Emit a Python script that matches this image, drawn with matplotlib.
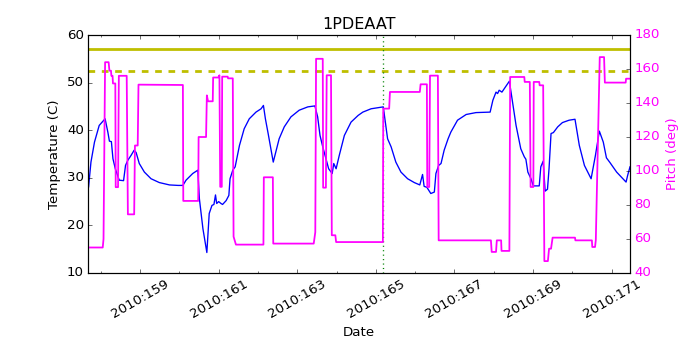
import numpy as np
import matplotlib
matplotlib.use('Agg')
import matplotlib.pyplot as plt
from matplotlib.ticker import MultipleLocator

plt.style.use('classic')

# temperature trace (day of year 2010, deg C)
t_day = [157.69, 157.75, 157.84, 157.96, 158.11, 158.18, 158.22, 158.27, 158.31, 158.37,
         158.47, 158.58, 158.63, 158.69, 158.77, 158.85, 158.90, 158.98, 159.11, 159.28,
         159.49, 159.75, 159.97, 160.09, 160.17, 160.34, 160.47, 160.51, 160.60, 160.70,
         160.74, 160.76, 160.83, 160.88, 160.92, 160.95, 161.00, 161.06, 161.10, 161.19,
         161.26, 161.29, 161.36, 161.42, 161.53, 161.65, 161.78, 161.95, 162.08, 162.14,
         162.19, 162.26, 162.39, 162.54, 162.67, 162.84, 163.05, 163.27, 163.45, 163.52,
         163.58, 163.65, 163.73, 163.80, 163.89, 163.93, 163.99, 164.07, 164.20, 164.37,
         164.55, 164.67, 164.88, 165.19, 165.30, 165.39, 165.51, 165.64, 165.81, 165.98,
         166.12, 166.19, 166.23, 166.30, 166.40, 166.49, 166.53, 166.60, 166.66, 166.74,
         166.84, 166.91, 167.08, 167.30, 167.55, 167.91, 167.98, 168.06, 168.10, 168.14,
         168.21, 168.30, 168.40, 168.48, 168.57, 168.69, 168.78, 168.82, 168.87, 168.95,
         169.01, 169.16, 169.20, 169.26, 169.31, 169.37, 169.41, 169.46, 169.52, 169.63,
         169.75, 169.92, 170.07, 170.18, 170.31, 170.48, 170.59, 170.69, 170.79, 170.87,
         170.96, 171.13, 171.37, 171.41, 171.47]
temp = [28.1, 33.3, 37.5, 41.0, 42.4, 39.6, 37.7, 37.6, 34.0, 31.9,
        29.5, 29.4, 32.6, 33.7, 34.7, 35.8, 35.3, 33.0, 31.2, 29.8,
        29.0, 28.5, 28.4, 28.4, 29.5, 30.9, 31.6, 25.6, 19.3, 14.3,
        20.0, 22.5, 24.2, 24.4, 26.4, 24.6, 25.0, 24.6, 24.4, 25.2,
        26.3, 29.8, 31.6, 32.3, 36.8, 40.3, 42.4, 43.8, 44.5, 45.2,
        42.4, 39.3, 33.3, 38.2, 40.7, 42.8, 44.2, 44.9, 45.1, 42.8,
        38.9, 36.5, 34.0, 31.9, 30.9, 33.0, 31.9, 34.7, 38.9, 41.7,
        43.1, 43.8, 44.5, 44.9, 38.2, 36.5, 33.3, 31.2, 29.8, 29.0,
        28.5, 30.7, 28.2, 28.0, 26.7, 27.0, 30.9, 32.6, 33.0, 35.8,
        38.2, 39.6, 42.1, 43.3, 43.7, 43.8, 46.3, 48.0, 47.7, 48.4,
        48.0, 49.1, 50.3, 45.9, 41.0, 36.1, 34.4, 33.9, 31.2, 29.8,
        28.3, 28.3, 32.3, 33.5, 27.2, 27.6, 32.0, 39.3, 39.5, 40.7,
        41.6, 42.1, 42.3, 36.8, 32.6, 29.8, 34.7, 39.8, 37.5, 34.2,
        33.2, 31.2, 29.1, 30.5, 32.3]

# pitch trace (deg)
p_day = [157.68, 158.05, 158.07, 158.11, 158.20, 158.22, 158.26, 158.27, 158.30, 158.31,
         158.37, 158.38, 158.44, 158.46, 158.66, 158.69, 158.85, 158.87, 158.94, 158.96,
         160.09, 160.10, 160.48, 160.49, 160.68, 160.70, 160.73, 160.85, 160.86, 160.99,
         161.02, 161.04, 161.08, 161.09, 161.23, 161.24, 161.36, 161.38, 161.44, 162.14,
         162.15, 162.38, 162.39, 163.42, 163.46, 163.48, 163.65, 163.66, 163.73, 163.75,
         163.86, 163.88, 163.97, 163.99, 165.18, 165.19, 165.34, 165.36, 166.12, 166.14,
         166.30, 166.31, 166.36, 166.38, 166.58, 166.60, 167.93, 167.95, 168.06, 168.08,
         168.19, 168.20, 168.40, 168.42, 168.78, 168.79, 168.92, 168.94, 169.01, 169.02,
         169.16, 169.17, 169.26, 169.29, 169.38, 169.41, 169.46, 169.50, 170.07, 170.08,
         170.50, 170.51, 170.58, 170.60, 170.70, 170.81, 170.83, 171.36, 171.37, 171.47]
pitch = [55, 55, 60, 164, 164, 159, 159, 156, 156, 151.5,
         151.5, 90.5, 90.5, 156, 156, 74.5, 74.5, 115, 115, 150.8,
         150.6, 82.4, 82.4, 120, 120, 144.5, 141, 141, 155, 155,
         156.3, 90.7, 90.7, 155.5, 155.5, 154.5, 154.5, 61.4, 56.7, 56.7,
         96.3, 96.3, 57.3, 57.3, 64, 166, 166, 90.2, 90.2, 156.3,
         156.3, 62.2, 62.2, 58.2, 58.2, 136.7, 136.7, 146.5, 146.5, 151,
         151, 90.6, 90.6, 156.1, 156.1, 59.2, 59.2, 52.4, 52.4, 59.2,
         59.2, 53, 53, 155.3, 155.3, 152.4, 152.4, 90.6, 90.6, 152.4,
         152.4, 150.4, 150.4, 47, 47, 54.3, 54.3, 60.8, 60.8, 59.2,
         59.2, 55.3, 55.3, 59.5, 167, 167, 152, 152, 154.3, 154.3]

planning_limit = 57.1
caution_limit = 52.4
event_day = 165.18
label_days = list(range(159, 172, 2))

# rendered at 80 dpi like the original plots
fig = plt.figure(figsize=(8.75, 4.375), dpi=80, facecolor='white')
ax = fig.add_subplot(111)
fig.subplots_adjust(left=0.126, right=0.9, top=0.9, bottom=0.22)

ax.plot(t_day, temp, 'b-', lw=1.2)
ax.axhline(planning_limit, color='y', lw=2.5)
ax.axhline(caution_limit, color='y', lw=2.5, ls='--')
ax.axvline(event_day, color='g', ls=':', lw=1.2)
ax.set_xlim(157.68, 171.47)
ax.set_ylim(10, 60)
ax.set_title('1PDEAAT')
ax.set_xlabel('Date')
ax.set_ylabel('Temperature (C)')
ax.xaxis.set_minor_locator(MultipleLocator(1))
ax.set_xticks(label_days)
ax.set_xticklabels(['2010:%d' % d for d in label_days], rotation=30)

ax2 = ax.twinx()
ax2.plot(p_day, pitch, color='magenta', lw=1.6)
ax2.set_ylim(40, 180)
ax2.set_xlim(157.68, 171.47)
ax2.set_ylabel('Pitch (deg)', color='magenta')
for lab in ax2.get_yticklabels():
    lab.set_color('magenta')

fig.savefig('out.png', dpi=80, facecolor='white')
